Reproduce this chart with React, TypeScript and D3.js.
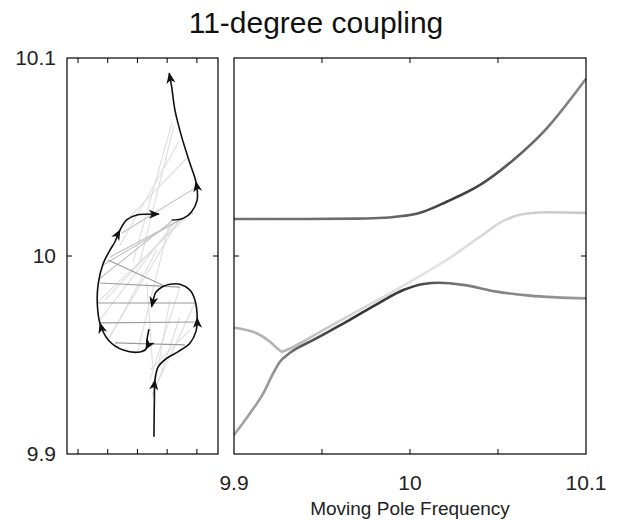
import React, { useEffect, useRef } from 'react';
import * as d3 from 'd3';

const title = '11-degree coupling';
const xLabel = 'Moving Pole Frequency';

const freqLabels = [9.9, 10, 10.1];
const freqTicks = [10];
const poleTicks = [9.95, 10, 10.05];
const poleLabels = [9.9, 10, 10.1];
const reTicks = [-4, -3, -2, -1, 0];

// right panel: eigenfrequency vs moving pole frequency
const upperFreq = [
  [9.9, 10.0187], [9.94, 10.0187], [9.97, 10.0189], [9.985, 10.0193], [9.9924, 10.0199],
  [10.0, 10.0207], [10.0076, 10.0224], [10.0208, 10.0274], [10.0398, 10.0359],
  [10.0587, 10.0485], [10.0777, 10.0645], [10.1, 10.0895],
];
const middleFreq = [
  [9.9, 9.9638], [9.9129, 9.961], [9.9205, 9.9567], [9.9252, 9.9529], [9.9271, 9.9517],
  [9.9309, 9.9529], [9.9413, 9.9578], [9.9545, 9.9645], [9.9735, 9.9738], [9.9924, 9.983],
  [10.0038, 9.9889], [10.0208, 9.998], [10.0398, 10.0097], [10.053, 10.0177],
  [10.0644, 10.0212], [10.0777, 10.0221], [10.1, 10.0218],
];
const lowerFreq = [
  [9.9, 9.9096], [9.9091, 9.9206], [9.9167, 9.9307], [9.9223, 9.9408], [9.9261, 9.9466],
  [9.9309, 9.9505], [9.9451, 9.9576], [9.964, 9.9668], [9.983, 9.9766], [9.9962, 9.9828],
  [10.0076, 9.9859], [10.017, 9.9865], [10.0303, 9.9854], [10.0492, 9.982],
  [10.068, 9.98], [10.1, 9.9786],
];

// left panel: pole loci (real part, frequency)
const locusLow = [
  [-1.445, 9.9087], [-1.43, 9.9273], [-1.412, 9.9374], [-1.3, 9.9441], [-1.018, 9.9483],
  [-0.629, 9.9517], [-0.235, 9.9559], [-0.034, 9.9618], [0.01, 9.9687], [-0.067, 9.9778],
  [-0.235, 9.9828], [-0.571, 9.9857], [-0.908, 9.9857], [-1.187, 9.9842], [-1.39, 9.9815],
  [-1.47, 9.9778], [-1.524, 9.9744],
];
const locusMid = [
  [-1.613, 9.9631], [-1.681, 9.9576], [-1.714, 9.953], [-1.916, 9.9515], [-2.477, 9.9525],
  [-2.982, 9.9576], [-3.261, 9.966], [-3.351, 9.9761], [-3.318, 9.9862], [-3.15, 9.9963],
  [-2.924, 10.003], [-2.756, 10.0072], [-2.588, 10.0131], [-2.363, 10.0182], [-2.027, 10.0207],
  [-1.691, 10.0211], [-1.277, 10.0212],
];
const locusHigh = [
  [-0.85, 10.0182], [-0.46, 10.019], [-0.178, 10.0224], [0.01, 10.0283], [-0.034, 10.0375],
  [-0.235, 10.0468], [-0.514, 10.0603], [-0.739, 10.0737], [-0.85, 10.0855], [-0.931, 10.0923],
];
const arrowsLow = [2, 8, 16];
const arrowsMid = [2, 6, 12, 16];
const arrowsHigh = [4, 9];

// rungs joining the poles: x1, y1, x2, y2, shade level
const rungs = [
  [-2.454, 10.0167, -0.303, 10.05, 0],
  [-2.151, 9.997, -0.84, 10.0672, 0],
  [-1.916, 9.997, -0.773, 10.0657, 0],
  [-2.6, 10.005, -0.6, 10.058, 0],
  [-1.58, 9.9374, -0.571, 9.9843, 0],
  [-1.513, 9.9298, -0.067, 9.9763, 0],
  [-1.58, 9.9424, -0.235, 9.9626, 0],
  [-2.924, 9.9591, -1.345, 10.003, 0],
  [-3.261, 9.9677, -0.739, 10.0172, 0],
  [-3.092, 9.9778, -0.471, 10.0192, 0],
  [-3.361, 9.9763, -0.168, 10.0222, 0],
  [-1.479, 9.9288, -0.908, 9.9778, 0],
  [-1.479, 9.9288, -0.571, 9.9692, 0],
  [-1.479, 9.9424, -1.681, 9.9864, 0],
  [-2.0, 9.9515, -0.9, 10.018, 0],
  [-3.0, 9.9576, -0.6, 10.0185, 0],
  [-2.924, 9.9995, -0.134, 10.0217, 1],
  [-2.521, 10.0116, 0, 10.0349, 1],
  [-3.328, 9.9879, -0.84, 10.0177, 1],
  [-3.16, 9.9955, -0.471, 10.0192, 1],
  [-3.261, 9.9864, -0.571, 9.9843, 2],
  [-3.361, 9.9763, -0.067, 9.9763, 2],
  [-3.261, 9.9662, 0, 9.9667, 2],
  [-2.756, 9.9561, -0.403, 9.9551, 2],
  [-2.992, 9.998, -1.008, 9.9843, 2],
];

const FONT = '"Liberation Sans", Arial, Helvetica, sans-serif';
const rungColor = ['#dedede', '#c2c2c2', '#9c9c9c'];

export default function App() {
  const ref = useRef<SVGSVGElement>(null);

  useEffect(() => {
    const svg = d3.select(ref.current);
    svg.selectAll('*').remove();

    const top = 58, bottom = 454;
    const y = d3.scaleLinear().domain([9.9, 10.1]).range([bottom, top]);
    const xL = d3.scaleLinear().domain([-4.37, 0.71]).range([67, 218]);
    const xR = d3.scaleLinear().domain([9.9, 10.1]).range([234, 586]);

    // gradients for right-hand curves
    const defs = svg.append('defs');
    const grad = (id: string, stops: [number, string][]) => {
      const g = defs.append('linearGradient').attr('id', id)
        .attr('gradientUnits', 'userSpaceOnUse')
        .attr('x1', xR(9.9)).attr('x2', xR(10.1)).attr('y1', 0).attr('y2', 0);
      stops.forEach(s => g.append('stop').attr('offset', s[0]).attr('stop-color', s[1]));
    };
    grad('gUpper', [[0, '#727272'], [0.45, '#6a6a6a'], [0.62, '#383838'], [0.78, '#5a5a5a'], [1, '#8c8c8c']]);
    grad('gMiddle', [[0, '#b0b0b0'], [0.15, '#b4b4b4'], [0.3, '#d0d0d0'], [0.55, '#e6e6e6'], [0.8, '#d2d2d2'], [1, '#c8c8c8']]);
    grad('gLower', [[0, '#a4a4a4'], [0.1, '#9a9a9a'], [0.2, '#555'], [0.35, '#333'], [0.5, '#3c3c3c'], [0.65, '#7a7a7a'], [1, '#9a9a9a']]);

    // ----- left panel -----
    const left = svg.append('g');
    left.selectAll('line.rung').data(rungs).enter().append('line')
      .attr('x1', d => xL(d[0])).attr('y1', d => y(d[1]))
      .attr('x2', d => xL(d[2])).attr('y2', d => y(d[3]))
      .attr('stroke', d => rungColor[d[4]]).attr('stroke-width', 1.1);

    const locLine = d3.line<number[]>().x(d => xL(d[0])).y(d => y(d[1]))
      .curve(d3.curveCatmullRom.alpha(0.5));
    const loci: [number[][], number[]][] = [
      [locusLow, arrowsLow], [locusMid, arrowsMid], [locusHigh, arrowsHigh],
    ];
    loci.forEach(([pts, arr]) => {
      left.append('path').attr('d', locLine(pts)).attr('fill', 'none')
        .attr('stroke', '#111').attr('stroke-width', 1.6);
      arr.forEach(i => {
        const a = pts[Math.max(i - 1, 0)];
        const b = pts[Math.min(i + 1, pts.length - 1)];
        const ang = Math.atan2(y(b[1]) - y(a[1]), xL(b[0]) - xL(a[0])) * 180 / Math.PI;
        left.append('path').attr('d', 'M1,0L-10,-4.5L-7,0L-10,4.5Z')
          .attr('transform', `translate(${xL(pts[i][0])},${y(pts[i][1])}) rotate(${ang})`)
          .attr('fill', '#111');
      });
    });

    // frame + ticks
    const frame = (g: any, x0: number, x1: number) => {
      g.append('rect').attr('x', x0).attr('y', top).attr('width', x1 - x0)
        .attr('height', bottom - top).attr('fill', 'none').attr('stroke', '#000').attr('stroke-width', 1.2);
    };
    frame(left, 67, 218);
    reTicks.forEach(t => {
      left.append('line').attr('x1', xL(t)).attr('x2', xL(t)).attr('y1', top).attr('y2', top + 5).attr('stroke', '#000');
      left.append('line').attr('x1', xL(t)).attr('x2', xL(t)).attr('y1', bottom).attr('y2', bottom - 5).attr('stroke', '#000');
    });
    freqTicks.forEach(t => {
      left.append('line').attr('x1', 67).attr('x2', 72).attr('y1', y(t)).attr('y2', y(t)).attr('stroke', '#000');
      left.append('line').attr('x1', 218).attr('x2', 213).attr('y1', y(t)).attr('y2', y(t)).attr('stroke', '#000');
    });
    freqLabels.forEach(t => {
      left.append('text').attr('x', 56).attr('y', y(t)).attr('dy', '0.35em')
        .attr('text-anchor', 'end').attr('font-family', FONT).attr('font-size', 21)
        .attr('fill', '#222').text(d3.format('~g')(t));
    });

    // ----- right panel -----
    const right = svg.append('g');
    const fLine = d3.line<number[]>().x(d => xR(d[0])).y(d => y(d[1]))
      .curve(d3.curveMonotoneX);
    [[middleFreq, 'gMiddle'], [lowerFreq, 'gLower'], [upperFreq, 'gUpper']].forEach(([pts, id]) => {
      right.append('path').attr('d', fLine(pts as number[][])).attr('fill', 'none')
        .attr('stroke', `url(#${id})`).attr('stroke-width', 2.6);
    });
    frame(right, 234, 586);
    poleTicks.forEach(t => {
      right.append('line').attr('x1', xR(t)).attr('x2', xR(t)).attr('y1', top).attr('y2', top + 5).attr('stroke', '#000');
      right.append('line').attr('x1', xR(t)).attr('x2', xR(t)).attr('y1', bottom).attr('y2', bottom - 5).attr('stroke', '#000');
    });
    freqTicks.forEach(t => {
      right.append('line').attr('x1', 234).attr('x2', 239).attr('y1', y(t)).attr('y2', y(t)).attr('stroke', '#000');
      right.append('line').attr('x1', 586).attr('x2', 581).attr('y1', y(t)).attr('y2', y(t)).attr('stroke', '#000');
    });
    poleLabels.forEach(t => {
      right.append('text').attr('x', xR(t)).attr('y', 490)
        .attr('text-anchor', 'middle').attr('font-family', FONT).attr('font-size', 21)
        .attr('fill', '#222').text(d3.format('~g')(t));
    });
    right.append('text').attr('x', 410).attr('y', 515).attr('text-anchor', 'middle')
      .attr('font-family', FONT).attr('font-size', 19).attr('fill', '#222').text(xLabel);

    svg.append('text').attr('x', 316).attr('y', 33).attr('text-anchor', 'middle')
      .attr('font-family', FONT).attr('font-size', 30).attr('fill', '#111').text(title);
  }, []);

  return (
    <svg ref={ref} width={619} height={520}
      style={{ position: 'absolute', left: 0, top: 0, background: '#fff' }} />
  );
}
